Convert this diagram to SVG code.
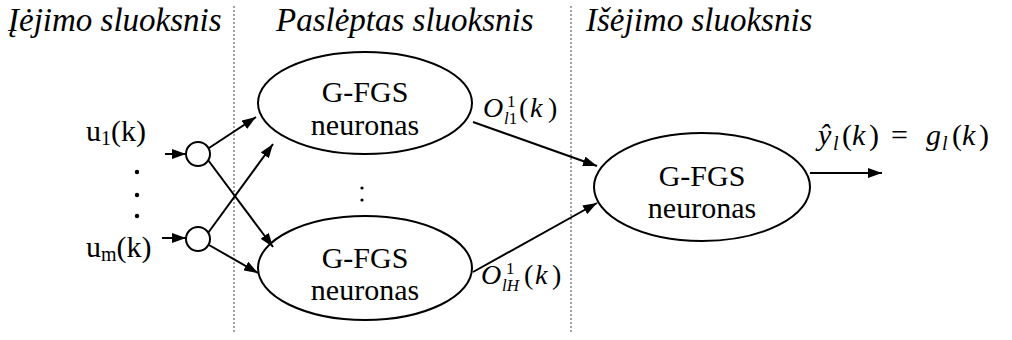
<svg xmlns="http://www.w3.org/2000/svg" width="1012" height="340" viewBox="0 0 1012 340" font-family="Liberation Serif, Times New Roman, serif">
<defs>
<marker id="ah" markerWidth="14" markerHeight="10" refX="14" refY="5" orient="auto" markerUnits="userSpaceOnUse">
<path d="M0,0 L14,5 L0,10 Z" fill="#000"/>
</marker>
<style>
text{fill:#000}
.hd{font-size:33px;font-style:italic}
.nl{font-size:30px;text-anchor:middle}
.m{font-size:30px}
.lb{font-size:28px}
.it{font-style:italic}
.node{fill:#fff;stroke:#000;stroke-width:2}
.edge{stroke:#000;stroke-width:2;fill:none;marker-end:url(#ah)}
.sep{stroke:#444;stroke-width:1;stroke-dasharray:2,2}
</style>
</defs>
<rect width="1012" height="340" fill="#fff"/>
<!-- layer separators -->
<line class="sep" x1="234" y1="6" x2="234" y2="332"/>
<line class="sep" x1="571" y1="6" x2="571" y2="332"/>
<!-- layer headers -->
<text class="hd" x="8" y="31">Įėjimo sluoksnis</text>
<text class="hd" x="276" y="31">Paslėptas sluoksnis</text>
<text class="hd" x="586" y="31">Išėjimo sluoksnis</text>
<!-- inputs -->
<g id="in1">
<circle class="node" cx="198" cy="154" r="12"/>
<text class="m" x="86" y="141">u<tspan font-size="20" dy="4">1</tspan><tspan dy="-4">(k)</tspan></text>
</g>
<g id="in-dots">
<circle cx="137" cy="172" r="2.2"/>
<circle cx="137" cy="195" r="2.2"/>
<circle cx="137" cy="216" r="2.2"/>
</g>
<g id="inm">
<circle class="node" cx="198" cy="239" r="12"/>
<text class="m" x="86" y="257">u<tspan font-size="20" dy="4">m</tspan><tspan dy="-4">(k)</tspan></text>
</g>
<!-- hidden neurons -->
<g id="h1">
<ellipse class="node" cx="365" cy="103" rx="107" ry="51"/>
<text class="nl" x="365" y="102">G-FGS</text>
<text class="nl" x="365" y="135">neuronas</text>
</g>
<g id="h-dots">
<circle cx="362" cy="188" r="1.6"/>
<circle cx="362" cy="200" r="1.6"/>
</g>
<g id="hH">
<ellipse class="node" cx="365" cy="268" rx="107" ry="52"/>
<text class="nl" x="365" y="268">G-FGS</text>
<text class="nl" x="365" y="300">neuronas</text>
</g>
<!-- output neuron -->
<g id="out">
<ellipse class="node" cx="702" cy="187" rx="108" ry="54"/>
<text class="nl" x="702" y="186">G-FGS</text>
<text class="nl" x="702" y="218">neuronas</text>
</g>
<!-- signal labels -->
<g id="labels">
<text class="lb" y="117"><tspan class="it" x="483">O</tspan><tspan font-size="17" x="507" dy="-10">1</tspan><tspan class="it" font-size="17" x="504" dy="17">l</tspan><tspan font-size="17">1</tspan><tspan x="519" dy="-7">(</tspan><tspan class="it" x="530">k</tspan><tspan x="548">)</tspan></text>
<text class="lb" y="284"><tspan class="it" x="481">O</tspan><tspan font-size="17" x="506" dy="-10">1</tspan><tspan class="it" font-size="17" x="502" dy="17">lH</tspan><tspan x="524" dy="-7">(</tspan><tspan class="it" x="535">k</tspan><tspan x="552">)</tspan></text>
<text class="m" y="145"><tspan class="it" x="818">ŷ</tspan><tspan class="it" font-size="20" x="833" dy="5">l</tspan><tspan x="842" dy="-5">(</tspan><tspan class="it" x="852">k</tspan><tspan x="869">)</tspan><tspan x="891">=</tspan><tspan class="it" x="926">g</tspan><tspan class="it" font-size="20" x="942" dy="5">l</tspan><tspan x="952" dy="-5">(</tspan><tspan class="it" x="962">k</tspan><tspan x="979">)</tspan></text>
</g>
<!-- connectors -->
<g id="edges">
<line class="edge" x1="165" y1="154" x2="186" y2="154"/>
<line class="edge" x1="162" y1="238" x2="186" y2="238"/>
<line class="edge" x1="209" y1="148" x2="256" y2="117"/>
<line class="edge" x1="208" y1="160" x2="273" y2="247"/>
<line class="edge" x1="208" y1="233" x2="273" y2="144"/>
<line class="edge" x1="209" y1="245" x2="258" y2="273"/>
<line class="edge" x1="473" y1="122" x2="597" y2="166"/>
<line class="edge" x1="473" y1="272" x2="597" y2="203"/>
<line class="edge" x1="810" y1="173" x2="882" y2="173"/>
</g>
</svg>
